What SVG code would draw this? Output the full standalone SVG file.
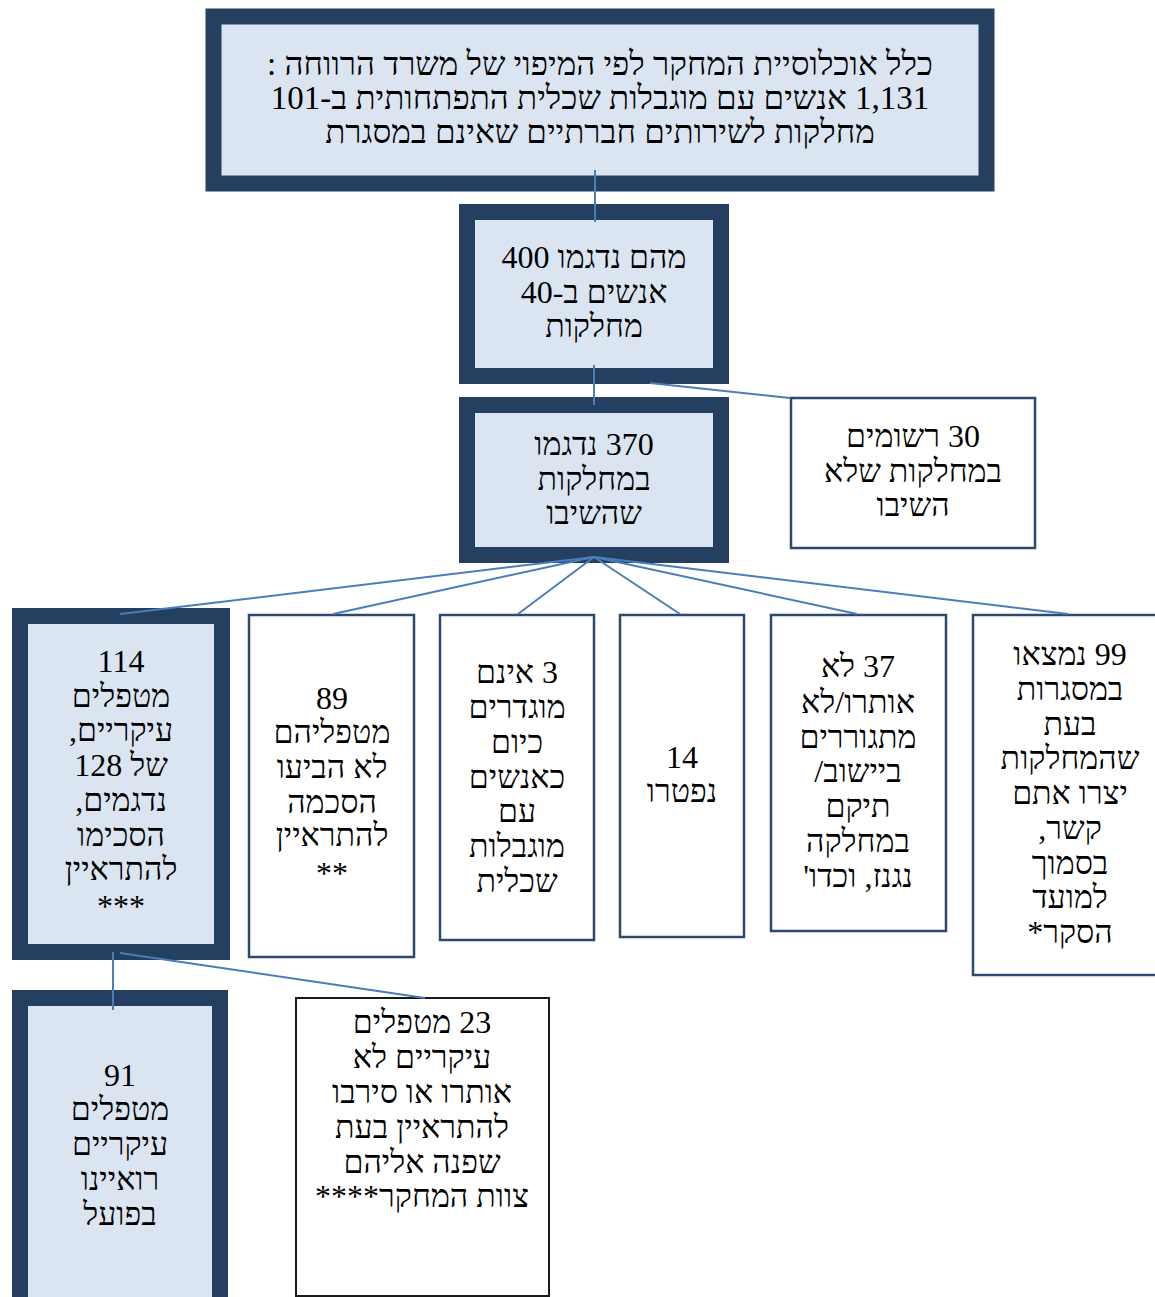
<svg xmlns="http://www.w3.org/2000/svg" width="1155" height="1297" viewBox="0 0 1155 1297">
<style>
.thick{fill:#DBE5F1;stroke:#243F60;stroke-width:16}
.thin{fill:#FFFFFF;stroke:#2C4A6E;stroke-width:2.5}
.thinb{fill:#FFFFFF;stroke:#1A1A1A;stroke-width:2}
text{font-family:"Liberation Serif","DejaVu Serif",serif;font-size:32px;fill:#000;text-anchor:middle;direction:rtl;unicode-bidi:embed}
.top{font-size:33px}
.c line{stroke:#4A7EBB;stroke-width:2}
</style>
<rect width="1155" height="1297" fill="#FFFFFF"/>
<g id="n-top">
<rect class="thick" x="213.5" y="16.5" width="773" height="167" stroke-width="17"/>
<text class="top" x="600" y="75">כלל אוכלוסיית המחקר לפי המיפוי של משרד הרווחה :</text>
<text class="top" x="600" y="109">1,131 אנשים עם מוגבלות שכלית התפתחותית ב-101</text>
<text class="top" x="600" y="143">מחלקות לשירותים חברתיים שאינם במסגרת</text>
</g>
<g id="n-400">
<rect class="thick" x="467" y="212" width="254" height="164"/>
<text x="594" y="268">מהם נדגמו 400</text>
<text x="594" y="303">אנשים ב-40</text>
<text x="594" y="337">מחלקות</text>
</g>
<g id="n-370">
<rect class="thick" x="467" y="405" width="254" height="150"/>
<text x="594" y="455">370 נדגמו</text>
<text x="594" y="490">במחלקות</text>
<text x="594" y="524">שהשיבו</text>
</g>
<g id="n-30">
<rect class="thin" x="791" y="398" width="244" height="150"/>
<text x="913" y="447">30 רשומים</text>
<text x="913" y="482">במחלקות שלא</text>
<text x="913" y="516">השיבו</text>
</g>
<g id="n-114">
<rect class="thick" x="20" y="616" width="202" height="336"/>
<text x="121" y="672">114</text>
<text x="121" y="707">מטפלים</text>
<text x="121" y="741">עיקריים,</text>
<text x="121" y="776">של 128</text>
<text x="121" y="811">נדגמים,</text>
<text x="121" y="846">הסכימו</text>
<text x="121" y="880">להתראיין</text>
<text x="121" y="917">***</text>
</g>
<g id="n-89">
<rect class="thin" x="249" y="615" width="165" height="342"/>
<text x="332" y="709">89</text>
<text x="332" y="743">מטפליהם</text>
<text x="332" y="778">לא הביעו</text>
<text x="332" y="813">הסכמה</text>
<text x="332" y="846">להתראיין</text>
<text x="332" y="884">**</text>
</g>
<g id="n-3">
<rect class="thin" x="440" y="615" width="154" height="325"/>
<text x="517" y="683">3 אינם</text>
<text x="517" y="718">מוגדרים</text>
<text x="517" y="753">כיום</text>
<text x="517" y="788">כאנשים</text>
<text x="517" y="822">עם</text>
<text x="517" y="857">מוגבלות</text>
<text x="517" y="892">שכלית</text>
</g>
<g id="n-14">
<rect class="thin" x="620" y="615" width="124" height="322"/>
<text x="682" y="768">14</text>
<text x="682" y="802">נפטרו</text>
</g>
<g id="n-37">
<rect class="thin" x="771" y="615" width="175" height="316"/>
<text x="858" y="677">37 לא</text>
<text x="858" y="713">אותרו/לא</text>
<text x="858" y="748">מתגוררים</text>
<text x="858" y="782">ביישוב/</text>
<text x="858" y="817">תיקם</text>
<text x="858" y="852">במחלקה</text>
<text x="858" y="887">נגנז, וכדו'</text>
</g>
<g id="n-99">
<rect class="thin" x="973" y="615" width="190" height="360"/>
<text x="1070" y="665">99 נמצאו</text>
<text x="1070" y="700">במסגרות</text>
<text x="1070" y="735">בעת</text>
<text x="1070" y="769">שהמחלקות</text>
<text x="1070" y="804">יצרו אתם</text>
<text x="1070" y="839">קשר,</text>
<text x="1070" y="874">בסמוך</text>
<text x="1070" y="908">למועד</text>
<text x="1070" y="943">הסקר*</text>
</g>
<g id="n-91">
<rect class="thick" x="20" y="998" width="200" height="320"/>
<text x="120" y="1086">91</text>
<text x="120" y="1120">מטפלים</text>
<text x="120" y="1155">עיקריים</text>
<text x="120" y="1190">רואיינו</text>
<text x="120" y="1225">בפועל</text>
</g>
<g id="n-23">
<rect class="thinb" x="296" y="998" width="253" height="298"/>
<text x="422" y="1033">23 מטפלים</text>
<text x="422" y="1068">עיקריים לא</text>
<text x="422" y="1103">אותרו או סירבו</text>
<text x="422" y="1138">להתראיין בעת</text>
<text x="422" y="1173">שפנה אליהם</text>
<text x="422" y="1207">צוות המחקר****</text>
</g>
<g id="connectors" class="c">
<line x1="595" y1="170" x2="595" y2="222"/>
<line x1="594" y1="365" x2="594" y2="405"/>
<line x1="650" y1="383" x2="790" y2="398"/>
<line x1="594" y1="557" x2="120" y2="614"/>
<line x1="594" y1="557" x2="333" y2="614"/>
<line x1="594" y1="557" x2="518" y2="614"/>
<line x1="594" y1="557" x2="680" y2="614"/>
<line x1="594" y1="557" x2="857" y2="614"/>
<line x1="594" y1="557" x2="1068" y2="614"/>
<line x1="113" y1="952" x2="113" y2="1010"/>
<line x1="120" y1="953" x2="425" y2="998"/>
</g>
</svg>
